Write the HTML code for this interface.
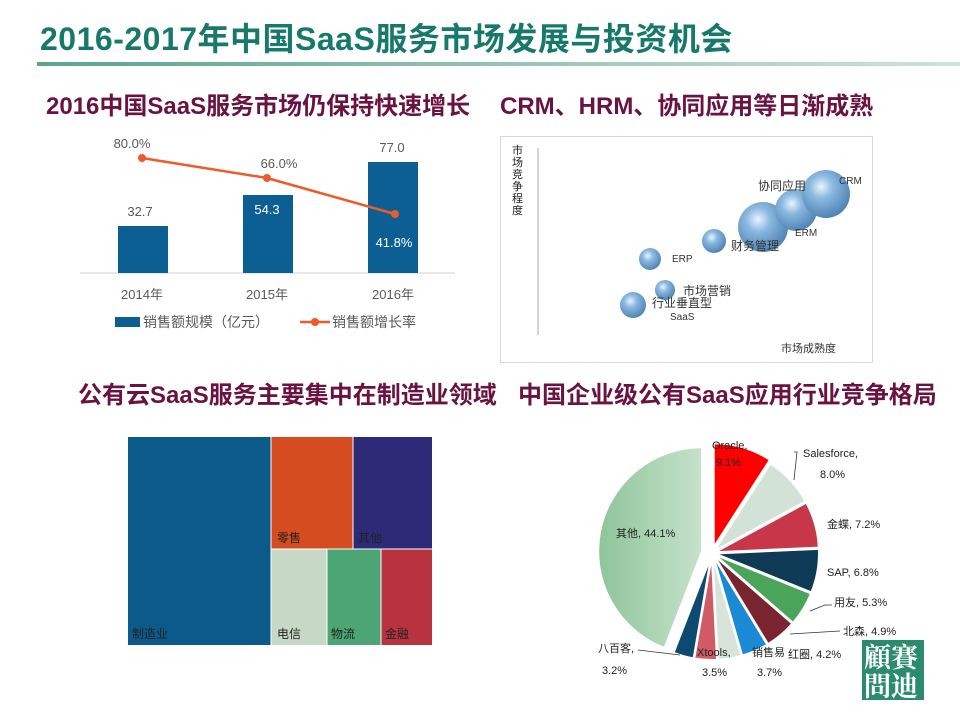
<!DOCTYPE html>
<html><head><meta charset="utf-8"><style>
body{margin:0;width:960px;height:720px;background:#fff;position:relative;overflow:hidden;font-family:"Liberation Sans","Noto Sans CJK SC",sans-serif}
.t{position:absolute;white-space:nowrap}
.s{font-size:24px;font-weight:bold;color:#6a1240}
</style></head><body>
<div class="t" style="left:40px;top:14px;font-size:32px;font-weight:bold;color:#17796a;letter-spacing:0.5px">2016-2017年中国SaaS服务市场发展与投资机会</div>
<div style="position:absolute;left:37px;top:62px;width:923px;height:4px;background:linear-gradient(90deg,#5aa58a,#cfe3d8)"></div>
<div class="t s" style="left:46px;top:86px">2016中国SaaS服务市场仍保持快速增长</div>
<div class="t s" style="left:500px;top:86px">CRM、HRM、协同应用等日渐成熟</div>
<div class="t s" style="left:78px;top:375px">公有云SaaS服务主要集中在制造业领域</div>
<div class="t s" style="left:518px;top:375px">中国企业级公有SaaS应用行业竞争格局</div>
<svg style="position:absolute;left:0;top:0" width="960" height="720" font-family="Liberation Sans,Noto Sans CJK SC,sans-serif">
<line x1="80" y1="273" x2="455" y2="273" stroke="#d0d0d0"/>
<rect x="118" y="226" width="50" height="47" fill="#0b5f93"/>
<rect x="243" y="195" width="50" height="78" fill="#0b5f93"/>
<rect x="368" y="162" width="50" height="111" fill="#0b5f93"/>
<polyline points="142,158 267,178 395,214" fill="none" stroke="#ee5a2a" stroke-width="2.5"/>
<circle cx="142" cy="158" r="4" fill="#ee5a2a"/><circle cx="267" cy="178" r="4" fill="#ee5a2a"/><circle cx="395" cy="214" r="4" fill="#ee5a2a"/>
<g font-size="13" fill="#595959" text-anchor="middle">
<text x="132" y="148">80.0%</text><text x="279" y="168">66.0%</text><text x="392" y="152">77.0</text>
<text x="140" y="216">32.7</text><text x="267" y="214" fill="#fff">54.3</text><text x="394" y="247" fill="#fff">41.8%</text>
<text x="142" y="299">2014年</text><text x="267" y="299">2015年</text><text x="393" y="299">2016年</text>
</g>
<rect x="115" y="317" width="25" height="10" fill="#0b5f93"/>
<text x="143" y="327" font-size="14" fill="#595959">销售额规模（亿元）</text>
<line x1="300" y1="322" x2="330" y2="322" stroke="#ee5a2a" stroke-width="2.5"/><circle cx="315" cy="322" r="4" fill="#ee5a2a"/>
<text x="332" y="327" font-size="14" fill="#595959">销售额增长率</text>
<defs><radialGradient id="bg" cx="0.4" cy="0.35" r="0.7"><stop offset="0" stop-color="#e8f4ff"/><stop offset="0.35" stop-color="#8ab8e0"/><stop offset="1" stop-color="#4a7fb0"/></radialGradient>
<linearGradient id="og" x1="0" x2="1"><stop offset="0" stop-color="#8ec59a"/><stop offset="1" stop-color="#c6e2cb"/></linearGradient></defs>
<rect x="500.5" y="136.5" width="372" height="226" fill="#fff" stroke="#d8d8d8"/>
<line x1="538" y1="148" x2="538" y2="335" stroke="#aaa"/>
<g font-size="11" fill="#222"><text x="512" y="154">市</text><text x="512" y="166">场</text><text x="512" y="178">竞</text><text x="512" y="190">争</text><text x="512" y="202">程</text><text x="512" y="214">度</text></g>
<circle cx="633" cy="305" r="13" fill="url(#bg)"/><circle cx="665" cy="290" r="10" fill="url(#bg)"/><circle cx="650" cy="259" r="11" fill="url(#bg)"/>
<circle cx="714" cy="241" r="12" fill="url(#bg)"/><circle cx="763" cy="227" r="25" fill="url(#bg)"/><circle cx="796" cy="210" r="21" fill="url(#bg)"/><circle cx="826" cy="194" r="24" fill="url(#bg)"/>
<g font-size="12" fill="#333">
<text x="758" y="190">协同应用</text><text x="839" y="184" font-size="10">CRM</text><text x="795" y="236" font-size="10">ERM</text>
<text x="731" y="250">财务管理</text><text x="672" y="262" font-size="10">ERP</text><text x="683" y="295">市场营销</text><text x="652" y="307">行业垂直型</text><text x="670" y="320" font-size="10">SaaS</text>
<text x="781" y="352" font-size="11">市场成熟度</text></g>
<rect x="128" y="437" width="143" height="208" fill="#0b5a8a"/>
<rect x="271" y="437" width="82" height="112" fill="#d44c1f"/>
<rect x="353" y="437" width="79" height="112" fill="#2d2a78"/>
<rect x="271" y="549" width="56" height="96" fill="#c7d8c7"/>
<rect x="327" y="549" width="54" height="96" fill="#4ca574"/>
<rect x="381" y="549" width="51" height="96" fill="#b83240"/>
<g stroke="#fff" stroke-width="1"><line x1="271" y1="437" x2="271" y2="645"/><line x1="353" y1="437" x2="353" y2="549"/><line x1="271" y1="549" x2="432" y2="549"/><line x1="327" y1="549" x2="327" y2="645"/><line x1="381" y1="549" x2="381" y2="645"/></g>
<g font-size="12" fill="#222"><text x="132" y="638">制造业</text><text x="277" y="542">零售</text><text x="358" y="542">其他</text><text x="277" y="638">电信</text><text x="331" y="638">物流</text><text x="385" y="638">金融</text></g>
<g id="pie"></g>
<g font-size="11" fill="#222">
<text x="712" y="449">Oracle,</text><text x="716" y="466">9.1%</text>
<text x="803" y="457">Salesforce,</text><text x="820" y="478">8.0%</text>
<text x="827" y="528">金蝶, 7.2%</text><text x="827" y="576">SAP, 6.8%</text><text x="834" y="606">用友, 5.3%</text>
<text x="843" y="635">北森, 4.9%</text><text x="788" y="658">红圈, 4.2%</text><text x="752" y="656">销售易</text><text x="757" y="676">3.7%</text>
<text x="697" y="656">Xtools,</text><text x="702" y="676">3.5%</text><text x="598" y="652">八百客,</text><text x="602" y="674">3.2%</text>
<text x="616" y="537">其他, 44.1%</text></g>
<g stroke="#333" fill="none" stroke-width="0.8"><polyline points="794,452 797,452 794,480"/><polyline points="832,605 825,605 810,611"/><polyline points="840,631 790,634"/><polyline points="638,650 680,655"/></g>
<rect x="862" y="640" width="62" height="60" fill="#2a8c6c"/>
<g font-size="27" font-weight="bold" fill="#fff" font-family="Noto Serif CJK SC,serif"><text x="864" y="667">顧賽</text><text x="864" y="696">問迪</text></g>
</svg>
<script>
var d=[[9.1,"#ff0000"],[8.0,"#d3e2d6"],[7.2,"#c8364a"],[6.8,"#0e3a55"],[5.3,"#4aa55a"],[4.9,"#7a2430"],[4.2,"#1a8ad4"],[3.7,"#d8e4da"],[3.5,"#d05a66"],[3.2,"#0c4a70"],[44.1,"url(#og)"]];
var cx=712,cy=553,r=104,a=0,g=document.getElementById("pie"),s="";
d.forEach(function(e,i){var a1=a*3.6*Math.PI/180,a2=(a+e[0])*3.6*Math.PI/180,m=(a1+a2)/2;a+=e[0];
var off=i==10?10:(i==0?6:3);var ox=cx+off*Math.sin(m),oy=cy-off*Math.cos(m);
var x1=ox+r*Math.sin(a1),y1=oy-r*Math.cos(a1),x2=ox+r*Math.sin(a2),y2=oy-r*Math.cos(a2);
s+='<path d="M'+ox+','+oy+'L'+x1+','+y1+'A'+r+','+r+' 0 '+(e[0]>50?1:0)+' 1 '+x2+','+y2+'Z" fill="'+e[1]+'" stroke="#fff" stroke-width="2"/>';});
g.innerHTML=s;
</script>
</body></html>
